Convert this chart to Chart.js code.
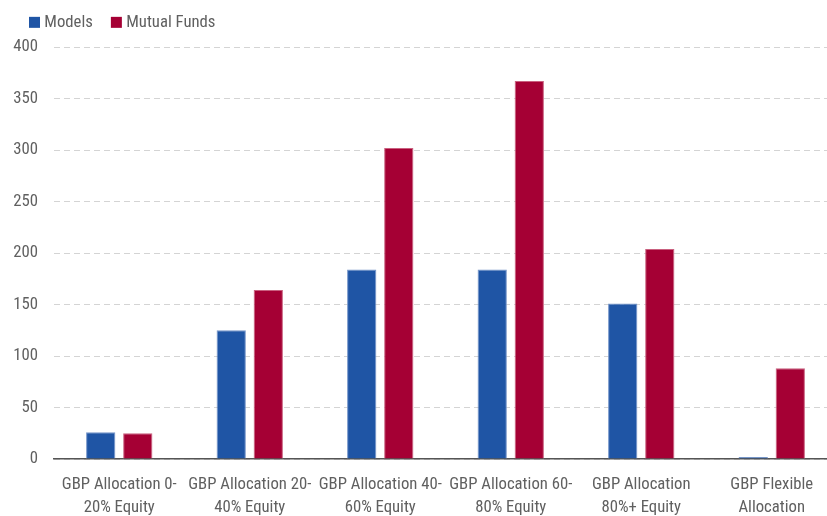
<!DOCTYPE html>
<html>
<head>
<meta charset="utf-8">
<script src="https://cdn.jsdelivr.net/npm/chart.js@4/dist/chart.umd.min.js"></script>
<style>
html,body{margin:0;padding:0;overflow:hidden;background:#fff;}
#wrap{width:837px;height:516px;position:relative;}
</style>
</head>
<body>
<div id="wrap"><canvas id="c" width="837" height="516"></canvas></div>
<script>
const categories = [
  ['GBP Allocation 0-', '20% Equity'],
  ['GBP Allocation 20-', '40% Equity'],
  ['GBP Allocation 40-', '60% Equity'],
  ['GBP Allocation 60-', '80% Equity'],
  ['GBP Allocation', '80%+ Equity'],
  ['GBP Flexible', 'Allocation']
];
const modelsValues = [26, 125, 184, 184, 151, 2];
const mutualFundsValues = [25, 164, 302, 367, 204, 88];
const yTicks = [0, 50, 100, 150, 200, 250, 300, 350, 400];

const FONT = "'Roboto Condensed', 'DejaVu Sans Condensed', sans-serif";
const TEXT = '#606060';

const legendTweak = {
  id: 'legendTweak',
  beforeInit(chart) {
    const lg = chart.legend;
    if (!lg) return;
    const orig = lg.fit;
    lg.fit = function() { orig.call(this); this.height = 47; };
  },
  afterLayout(chart) {
    const lg = chart.legend;
    if (!lg) return;
    lg.left += 11;
    lg.top -= 8;
  }
};

new Chart(document.getElementById('c'), {
  type: 'bar',
  data: {
    labels: categories,
    datasets: [
      { label: 'Models', data: modelsValues, backgroundColor: '#1F55A5', borderColor: '#7393c8', borderWidth: 1, borderSkipped: 'bottom' },
      { label: 'Mutual Funds', data: mutualFundsValues, backgroundColor: '#A50034', borderColor: '#c9607f', borderWidth: 1, borderSkipped: 'bottom' }
    ]
  },
  options: {
    responsive: false,
    animation: false,
    layout: { padding: 0 },
    datasets: { bar: { categoryPercentage: 0.568, barPercentage: 0.79 } },
    plugins: {
      legend: {
        position: 'top',
        align: 'start',
        labels: {
          usePointStyle: true,
          generateLabels(chart) {
            return Chart.defaults.plugins.legend.labels.generateLabels(chart).map(l => Object.assign(l, { pointStyle: 'rect', lineWidth: 0 }));
          },
          boxWidth: 3, boxHeight: 11, padding: 22,
          color: TEXT,
          font: { family: FONT, size: 16.7 }
        }
      },
      tooltip: { enabled: false }
    },
    scales: {
      x: {
        grid: { display: false, drawTicks: false },
        border: { display: true, color: '#555555', width: 1.5 },
        ticks: { color: TEXT, font: { family: FONT, size: 16.7, lineHeight: 1.38 }, maxRotation: 0, autoSkip: false, padding: 14 },
        afterFit(s) { s.height = 57; }
      },
      y: {
        min: 0, max: 400,
        afterBuildTicks(s) { s.ticks = yTicks.map(v => ({ value: v })); },
        grid: { color: '#d4d4d4', lineWidth: 1, drawTicks: false, tickLength: 0 },
        border: { display: false, dash: [6, 4] },
        ticks: { color: TEXT, font: { family: FONT, size: 16.7 }, padding: 16 },
        afterFit(s) { s.width = 54; }
      }
    }
  },
  plugins: [legendTweak]
});
</script>
</body>
</html>
